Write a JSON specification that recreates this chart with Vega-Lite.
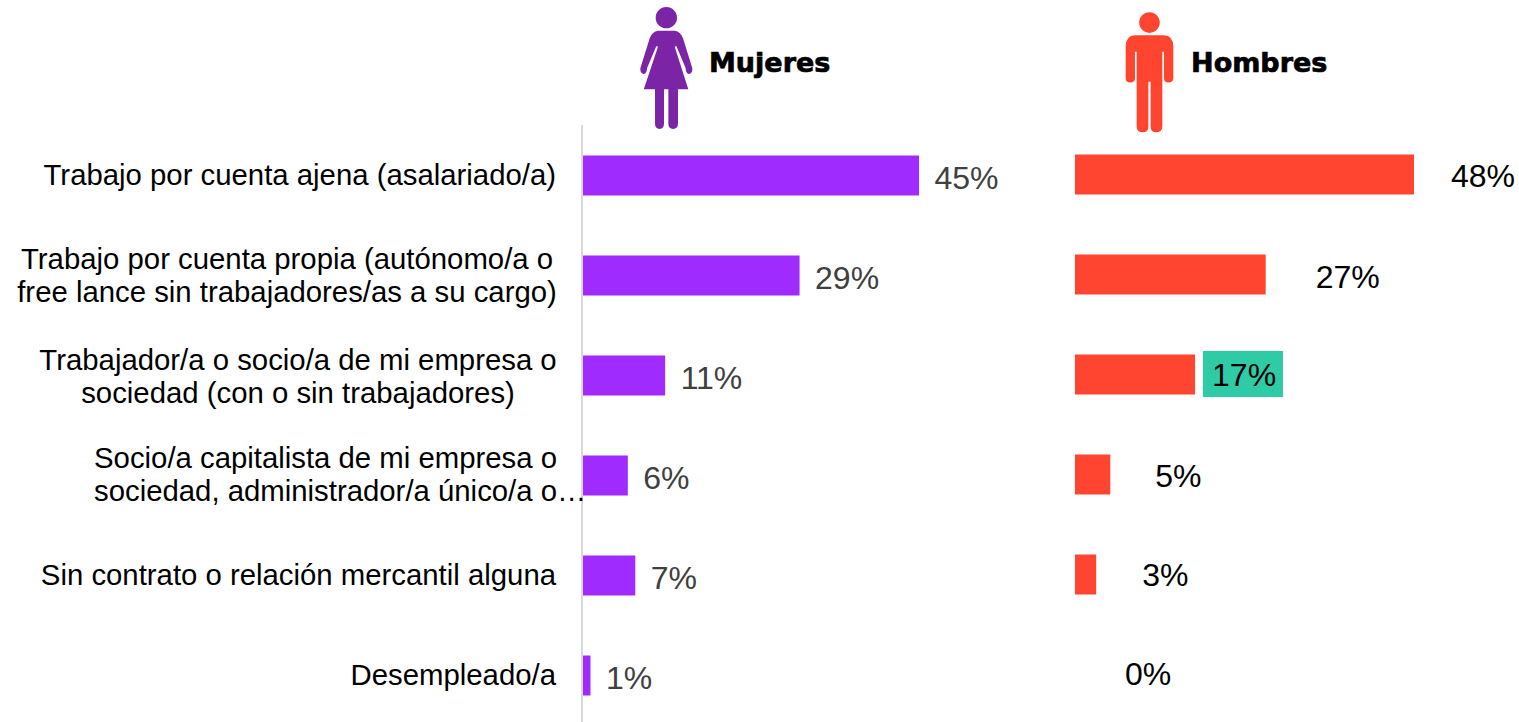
{
"$schema":"https://vega.github.io/schema/vega-lite/v6.json",
"width":1519,"height":722,"padding":0,
"autosize":{"type":"none"},
"background":"white",
"config":{"view":{"stroke":null},"text":{"font":"Liberation Sans"}},
"datasets":{
"filas":[
{"categoria":"Trabajo por cuenta ajena (asalariado/a)","lineas":["Trabajo por cuenta ajena (asalariado/a)"],"fila":1,"mujeres":45,"hombres":48,"etq_m":"45%","etq_h":"48%"},
{"categoria":"Trabajo por cuenta propia","lineas":["Trabajo por cuenta propia (autónomo/a o","free lance sin trabajadores/as a su cargo)"],"fila":2,"mujeres":29,"hombres":27,"etq_m":"29%","etq_h":"27%"},
{"categoria":"Trabajador/a o socio/a","lineas":["Trabajador/a o socio/a de mi empresa o","sociedad (con o sin trabajadores)"],"fila":3,"mujeres":11,"hombres":17,"etq_m":"11%","etq_h":"17%"},
{"categoria":"Socio/a capitalista","lineas":["Socio/a capitalista de mi empresa o","sociedad, administrador/a único/a o…"],"fila":4,"mujeres":6,"hombres":5,"etq_m":"6%","etq_h":"5%"},
{"categoria":"Sin contrato","lineas":["Sin contrato o relación mercantil alguna"],"fila":5,"mujeres":7,"hombres":3,"etq_m":"7%","etq_h":"3%"},
{"categoria":"Desempleado/a","lineas":["Desempleado/a"],"fila":6,"mujeres":1,"hombres":0,"etq_m":"1%","etq_h":"0%"}
]},
"encoding":{"y":{"field":"fila","type":"quantitative","axis":null,"scale":{"domain":[-0.75,6.47],"reverse":true,"nice":false,"zero":false,"padding":0}}},
"resolve":{"scale":{"x":"independent"}},
"layer":[
{"encoding":{"x":{"field":"mujeres","type":"quantitative","axis":null,"stack":null,"scale":{"domain":[-78.08,125.35],"nice":false,"zero":false,"padding":0}}},
 "layer":[
 {"data":{"values":[{"mujeres":0,"fila":0.5,"fin":6.47}]},"mark":{"type":"rule","color":"#d9d9d9","strokeWidth":2,"xOffset":-1},"encoding":{"y2":{"field":"fin"}}},
 {"data":{"name":"filas"},"mark":{"type":"bar","orient":"horizontal","size":40,"color":"#A02BFF","yOffset":0.5},"encoding":{}},
 {"data":{"name":"filas"},"mark":{"type":"text","align":"left","baseline":"middle","dx":15.5,"dy":3.5,"fontSize":32,"color":"#404040"},"encoding":{"text":{"field":"etq_m"}}},
 {"data":{"name":"filas"},"transform":[{"filter":"datum.fila==1||datum.fila==5||datum.fila==6"}],"mark":{"type":"text","align":"right","baseline":"middle","dx":-27,"dy":1,"fontSize":29.33,"lineHeight":32.5,"color":"#000000"},"encoding":{"text":{"field":"lineas"},"x":{"datum":0}}},
 {"data":{"name":"filas"},"transform":[{"filter":"datum.fila==2"}],"mark":{"type":"text","align":"center","baseline":"middle","dx":-296,"dy":-15,"fontSize":29.33,"lineHeight":32.5,"color":"#000000"},"encoding":{"text":{"field":"lineas"},"x":{"datum":0}}},
 {"data":{"name":"filas"},"transform":[{"filter":"datum.fila==3"}],"mark":{"type":"text","align":"center","baseline":"middle","dx":-285,"dy":-14,"fontSize":29.33,"lineHeight":32.5,"color":"#000000"},"encoding":{"text":{"field":"lineas"},"x":{"datum":0}}},
 {"data":{"name":"filas"},"transform":[{"filter":"datum.fila==4"}],"mark":{"type":"text","align":"left","baseline":"middle","dx":-489,"dy":-16,"fontSize":29.33,"lineHeight":32.5,"color":"#000000"},"encoding":{"text":{"field":"lineas"},"x":{"datum":0}}},
 {"data":{"values":[{"mujeres":11.16,"fila":-0.07}]},"mark":{"type":"point","filled":true,"opacity":1,"size":14884,"color":"#7B24A6","shape":"M-0.175,-0.825 A0.175,0.175 0 1 1 0.175,-0.825 A0.175,0.175 0 1 1 -0.175,-0.825 Z M0,-0.61 L0.137,-0.61 Q0.23,-0.6 0.273,-0.486 L0.426,0.005 Q0.43,0.09 0.37,0.098 Q0.32,0.09 0.317,0.005 L0.164,-0.36 L0.137,-0.35 L0.36,0.35 L0.191,0.35 L0.191,0.907 Q0.19,1 0.11,1 Q0.033,1 0.033,0.907 L0.033,0.35 L-0.038,0.35 L-0.038,0.907 Q-0.04,1 -0.11,1 Q-0.186,1 -0.186,0.907 L-0.186,0.35 L-0.37,0.35 L-0.137,-0.35 L-0.164,-0.36 L-0.317,0.005 Q-0.32,0.09 -0.37,0.098 Q-0.43,0.09 -0.426,0.005 L-0.273,-0.486 Q-0.23,-0.6 -0.137,-0.61 Z"},"encoding":{}},
 {"data":{"values":[{"mujeres":16.87,"fila":-0.11,"titulo":"Mujeres"}]},"mark":{"type":"text","align":"left","baseline":"middle","font":"DejaVu Sans","fontWeight":"bold","fontSize":27,"color":"#000000","stroke":"#000000","strokeWidth":0.7},"encoding":{"text":{"field":"titulo"}}}
 ]},
{"encoding":{"x":{"field":"hombres","type":"quantitative","axis":null,"stack":null,"scale":{"domain":[-152.21,62.87],"nice":false,"zero":false,"padding":0}}},
 "layer":[
 {"data":{"name":"filas"},"mark":{"type":"bar","orient":"horizontal","size":40,"color":"#FF4530","yOffset":-0.5},"encoding":{}},
 {"data":{"values":[{"hombres":18.12,"hasta":29.45,"fila":3}]},"mark":{"type":"bar","orient":"horizontal","size":46,"color":"#2FCBA6","yOffset":-1},"encoding":{"x2":{"field":"hasta"}}},
 {"data":{"name":"filas"},"transform":[{"filter":"datum.fila==1"}],"mark":{"type":"text","align":"left","baseline":"middle","dx":37,"dy":2,"fontSize":32,"color":"#000000"},"encoding":{"text":{"field":"etq_h"}}},
 {"data":{"name":"filas"},"transform":[{"filter":"datum.fila==2"}],"mark":{"type":"text","align":"left","baseline":"middle","dx":50,"dy":3,"fontSize":32,"color":"#000000"},"encoding":{"text":{"field":"etq_h"}}},
 {"data":{"name":"filas"},"transform":[{"filter":"datum.fila==3"}],"mark":{"type":"text","align":"left","baseline":"middle","dx":17,"dy":1,"fontSize":32,"color":"#000000"},"encoding":{"text":{"field":"etq_h"}}},
 {"data":{"name":"filas"},"transform":[{"filter":"datum.fila==4"}],"mark":{"type":"text","align":"left","baseline":"middle","dx":45,"dy":2,"fontSize":32,"color":"#000000"},"encoding":{"text":{"field":"etq_h"}}},
 {"data":{"name":"filas"},"transform":[{"filter":"datum.fila==5"}],"mark":{"type":"text","align":"left","baseline":"middle","dx":46,"dy":1,"fontSize":32,"color":"#000000"},"encoding":{"text":{"field":"etq_h"}}},
 {"data":{"name":"filas"},"transform":[{"filter":"datum.fila==6"}],"mark":{"type":"text","align":"left","baseline":"middle","dx":50,"dy":0,"fontSize":32,"color":"#000000"},"encoding":{"text":{"field":"etq_h"}}},
 {"data":{"values":[{"hombres":10.55,"fila":-0.027}]},"mark":{"type":"point","filled":true,"opacity":1,"size":14400,"color":"#FF4530","shape":"M-0.172,-0.828 A0.172,0.172 0 1 1 0.172,-0.828 A0.172,0.172 0 1 1 -0.172,-0.828 Z M-0.24,-0.617 L0.24,-0.617 Q0.397,-0.61 0.397,-0.428 L0.397,0.1 Q0.39,0.172 0.32,0.172 Q0.242,0.172 0.242,0.1 L0.242,-0.344 L0.214,-0.344 L0.214,0.906 Q0.21,1 0.108,1 Q0.019,1 0.019,0.906 L0.019,0.156 L-0.019,0.156 L-0.019,0.906 Q-0.02,1 -0.108,1 Q-0.214,1 -0.214,0.906 L-0.214,-0.344 L-0.242,-0.344 L-0.242,0.1 Q-0.242,0.172 -0.32,0.172 Q-0.397,0.172 -0.397,0.1 L-0.397,-0.428 Q-0.397,-0.61 -0.24,-0.617 Z"},"encoding":{}},
 {"data":{"values":[{"hombres":16.44,"fila":-0.11,"titulo":"Hombres"}]},"mark":{"type":"text","align":"left","baseline":"middle","font":"DejaVu Sans","fontWeight":"bold","fontSize":27,"color":"#000000","stroke":"#000000","strokeWidth":0.7},"encoding":{"text":{"field":"titulo"}}}
 ]}
]}
